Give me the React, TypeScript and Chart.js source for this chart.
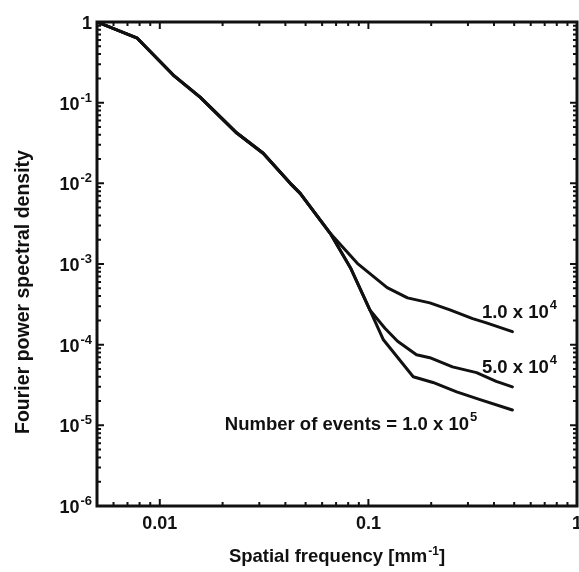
import React, { useEffect, useRef } from "react";
import { Chart, registerables } from "chart.js";

Chart.register(...registerables);

// ---- data ----
// part shared by all three curves
const freqCommon = [0.005, 0.0078, 0.0116, 0.0156, 0.0234, 0.0313, 0.0422, 0.0471, 0.0656];
const psdCommon = [1, 0.63, 0.22, 0.117, 0.042, 0.0236, 0.01, 0.0075, 0.0024];

// branch shared by 5.0e4 and 1.0e5
const freqLowBranch = [0.082, 0.1016];
const psdLowBranch = [9.0e-4, 2.7e-4];

// 1.0 x 10^4 events
const freq1e4 = [0.0885, 0.123, 0.154, 0.197, 0.246, 0.316, 0.368, 0.49];
const psd1e4 = [1.02e-3, 5.1e-4, 3.8e-4, 3.3e-4, 2.7e-4, 2.1e-4, 1.86e-4, 1.45e-4];

// 5.0 x 10^4 events
const freq5e4 = [0.12, 0.138, 0.17, 0.197, 0.253, 0.33, 0.41, 0.49];
const psd5e4 = [1.6e-4, 1.1e-4, 7.5e-5, 6.9e-5, 5.3e-5, 4.5e-5, 3.5e-5, 3.0e-5];

// 1.0 x 10^5 events
const freq1e5 = [0.118, 0.164, 0.204, 0.265, 0.34, 0.49];
const psd1e5 = [1.15e-4, 4.0e-5, 3.4e-5, 2.6e-5, 2.1e-5, 1.55e-5];

// ticks
const xMajorTicks = [0.01, 0.1, 1];
const xTickLabels = ["0.01", "0.1", "1"];
const yMajorExponents = [0, -1, -2, -3, -4, -5, -6];
const decadeMultipliers = [2, 3, 4, 5, 6, 7, 8, 9];

// text
const xTitle = "Spatial frequency [mm";
const xTitleExp = "-1";
const xTitleEnd = "]";
const yTitle = "Fourier power spectral density";

// curve annotations (text + anchor in data units)
const curveLabels = [
  { text: "1.0 x 10", exp: "4", x: 0.35, y: 2.15e-4 },
  { text: "5.0 x 10", exp: "4", x: 0.35, y: 4.5e-5 },
  { text: "Number of events = 1.0 x 10", exp: "5", x: 0.0205, y: 8.8e-6 },
];

function zip(xs: number[], ys: number[]) {
  return xs.map((x, i) => ({ x, y: ys[i] }));
}

const INK = "#111111";
const FONT_FAMILY = "'Liberation Sans', Arial, Helvetica, sans-serif";

function drawSup(
  ctx: CanvasRenderingContext2D,
  base: string,
  exp: string,
  x: number,
  y: number,
  align: "left" | "right" | "center",
  baseFont: string,
  expFont: string,
  rise: number,
  tail = ""
) {
  ctx.font = baseFont;
  const wb = ctx.measureText(base).width;
  const wt = tail ? ctx.measureText(tail).width : 0;
  ctx.font = expFont;
  const we = exp ? ctx.measureText(exp).width + 1 : 0;
  const total = wb + we + wt;
  let sx = x;
  if (align === "right") sx = x - total;
  else if (align === "center") sx = x - total / 2;
  ctx.textAlign = "left";
  ctx.textBaseline = "alphabetic";
  ctx.font = baseFont;
  ctx.fillText(base, sx, y);
  if (exp) {
    ctx.font = expFont;
    ctx.fillText(exp, sx + wb + 1, y - rise);
  }
  if (tail) {
    ctx.font = baseFont;
    ctx.fillText(tail, sx + wb + we, y);
  }
}

const framePlugin = {
  id: "framePlugin",
  afterDraw(chart: any) {
    const ctx: CanvasRenderingContext2D = chart.ctx;
    const { left, right, top, bottom } = chart.chartArea;
    const xs = chart.scales.x;
    const ys = chart.scales.y;
    ctx.save();
    ctx.strokeStyle = INK;
    ctx.fillStyle = INK;

    // inward ticks
    ctx.lineWidth = 2;
    const majorLen = 7;
    const minorLen = 4;
    for (let k = -3; k <= 0; k++) {
      const dec = Math.pow(10, k);
      const vals = [dec, ...decadeMultipliers.map((m) => m * dec)];
      vals.forEach((v, i) => {
        if (v < 0.005 - 1e-9 || v > 1 + 1e-9) return;
        const px = xs.getPixelForValue(v);
        const len = i === 0 ? majorLen : minorLen;
        ctx.beginPath();
        ctx.moveTo(px, bottom);
        ctx.lineTo(px, bottom - len);
        ctx.moveTo(px, top);
        ctx.lineTo(px, top + len);
        ctx.stroke();
      });
    }
    for (let k = -6; k <= 0; k++) {
      const dec = Math.pow(10, k);
      const vals = [dec, ...decadeMultipliers.map((m) => m * dec)];
      vals.forEach((v, i) => {
        if (v > 1 + 1e-12) return;
        const py = ys.getPixelForValue(v);
        const len = i === 0 ? majorLen : minorLen;
        ctx.beginPath();
        ctx.moveTo(left, py);
        ctx.lineTo(left + len, py);
        ctx.moveTo(right, py);
        ctx.lineTo(right - len, py);
        ctx.stroke();
      });
    }

    // frame
    ctx.lineWidth = 3;
    ctx.strokeRect(left, top, right - left, bottom - top);

    // tick labels
    const tickFont = `bold 18px ${FONT_FAMILY}`;
    const expFont = `bold 13px ${FONT_FAMILY}`;
    xMajorTicks.forEach((v, i) => {
      const px = xs.getPixelForValue(v);
      ctx.font = tickFont;
      ctx.textAlign = "center";
      ctx.textBaseline = "alphabetic";
      ctx.fillText(xTickLabels[i], px, bottom + 23);
    });
    yMajorExponents.forEach((e) => {
      const py = ys.getPixelForValue(Math.pow(10, e));
      if (e === 0) {
        drawSup(ctx, "1", "", left - 5, py + 7, "right", tickFont, expFont, 0);
      } else {
        drawSup(ctx, "10", String(e), left - 5, py + 7, "right", tickFont, expFont, 8);
      }
    });

    // axis titles
    const titleFont = `bold 18.5px ${FONT_FAMILY}`;
    const titleExpFont = `bold 12px ${FONT_FAMILY}`;
    drawSup(ctx, xTitle, xTitleExp, (left + right) / 2, 562, "center", titleFont, titleExpFont, 7, xTitleEnd);
    ctx.save();
    ctx.translate(29, 292);
    ctx.rotate(-Math.PI / 2);
    ctx.font = `bold 19.5px ${FONT_FAMILY}`;
    ctx.textAlign = "center";
    ctx.textBaseline = "alphabetic";
    ctx.fillText(yTitle, 0, 0);
    ctx.restore();

    // curve annotations
    const annFont = `bold 18.5px ${FONT_FAMILY}`;
    const annExpFont = `bold 13px ${FONT_FAMILY}`;
    curveLabels.forEach((c) => {
      const px = xs.getPixelForValue(c.x);
      const py = ys.getPixelForValue(c.y);
      drawSup(ctx, c.text, c.exp, px, py, "left", annFont, annExpFont, 9);
    });

    ctx.restore();
  },
};

export default function App() {
  const ref = useRef<HTMLCanvasElement>(null);
  useEffect(() => {
    const canvas = ref.current;
    if (!canvas) return;
    const lineStyle = {
      borderColor: INK,
      backgroundColor: INK,
      borderWidth: 3,
      pointRadius: 0,
      tension: 0,
      fill: false,
      borderCapStyle: "round" as const,
      borderJoinStyle: "round" as const,
    };
    const chart = new Chart(canvas, {
      type: "line",
      data: {
        datasets: [
          {
            label: "1.0 x 10^4",
            data: zip([...freqCommon, ...freq1e4], [...psdCommon, ...psd1e4]),
            ...lineStyle,
          },
          {
            label: "5.0 x 10^4",
            data: zip(
              [...freqCommon, ...freqLowBranch, ...freq5e4],
              [...psdCommon, ...psdLowBranch, ...psd5e4]
            ),
            ...lineStyle,
          },
          {
            label: "1.0 x 10^5",
            data: zip(
              [...freqCommon, ...freqLowBranch, ...freq1e5],
              [...psdCommon, ...psdLowBranch, ...psd1e5]
            ),
            ...lineStyle,
          },
        ],
      },
      options: {
        responsive: false,
        animation: false,
        devicePixelRatio: 1,
        layout: { padding: { left: 97, top: 22, right: 2, bottom: 66 } },
        scales: {
          x: { type: "logarithmic", min: 0.005, max: 1, display: false },
          y: { type: "logarithmic", min: 1e-6, max: 1, display: false },
        },
        plugins: {
          legend: { display: false },
          tooltip: { enabled: false },
        },
      },
      plugins: [framePlugin],
    });
    return () => chart.destroy();
  }, []);
  return (
    <div
      style={{
        position: "fixed",
        left: 0,
        top: 0,
        width: 579,
        height: 572,
        background: "#ffffff",
      }}
    >
      <canvas ref={ref} width={579} height={572} style={{ display: "block" }} />
    </div>
  );
}
